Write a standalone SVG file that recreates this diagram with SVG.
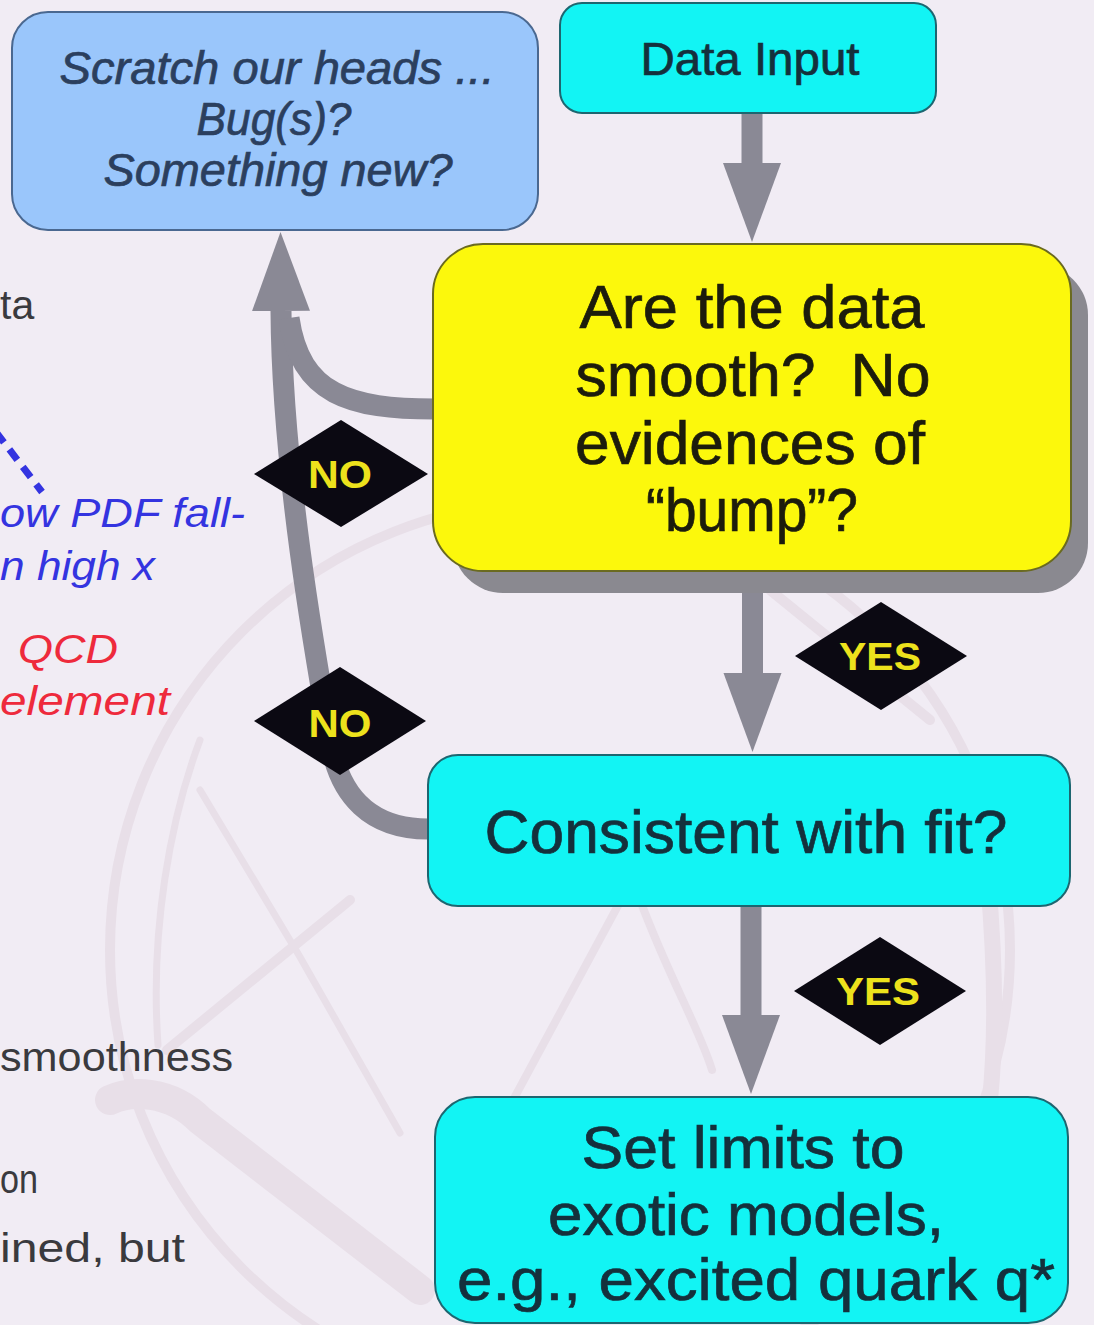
<svg xmlns="http://www.w3.org/2000/svg" width="1094" height="1325" viewBox="0 0 1094 1325">
  <defs>
    <marker id="head" markerUnits="userSpaceOnUse" markerWidth="80" markerHeight="62" refX="0" refY="29" orient="auto">
      <path d="M0,0 L79,29 L0,58 Z" fill="#8a8995"/>
    </marker>
  </defs>
  <style>
    .bg { fill: #f1ecf4; }
    .deco { fill: none; stroke: #e8dfe8; stroke-linecap: round; }
    .side { font-family: "Liberation Sans", Arial, sans-serif; font-size: 41px; }
    .grey { fill: #3a3a3e; }
    .blue { fill: #3434e0; font-style: italic; }
    .red { fill: #ee2a3c; font-style: italic; }
    .flow { fill: none; stroke: #8a8995; stroke-width: 21; }
    .box { stroke-width: 2; }
    .cyan { fill: #12f4f4; stroke: #1d6670; }
    .label { font-family: "Liberation Sans", Arial, sans-serif; text-anchor: middle; stroke-width: 0.7; }
    .dark { fill: #14303c; stroke: #14303c; }
    .diamond { fill: #0b0912; }
    .tag { font-family: "Liberation Sans", Arial, sans-serif; font-weight: bold; font-size: 38px; fill: #ede21c; text-anchor: middle; }
  </style>

  <rect class="bg" x="0" y="0" width="1094" height="1325"/>

  <!-- faint detector sketch in the background -->
  <g id="backdrop">
    <circle class="deco" cx="560" cy="950" r="450" stroke-width="10"/>
    <path class="deco" d="M200,740 C170,820 150,930 158,1045" stroke-width="7"/>
    <path class="deco" d="M200,790 L300,957 L400,1133" stroke-width="7"/>
    <path class="deco" d="M350,900 L167,1050" stroke-width="10"/>
    <path class="deco" d="M110,1100 C130,1090 170,1090 200,1120 L420,1290" stroke-width="30"/>
    <path class="deco" d="M621,900 L470,1180" stroke-width="8"/>
    <path class="deco" d="M640,900 C670,980 700,1030 712,1070" stroke-width="8"/>
    <path class="deco" d="M770,590 L930,720" stroke-width="10"/>
    <path class="deco" d="M988,880 C995,960 996,1040 990,1100" stroke-width="16"/>
  </g>

  <!-- slide text running off the left edge -->
  <g id="side-text" class="side">
    <text class="grey" x="0" y="319">ta</text>
    <line x1="-4" y1="432" x2="42" y2="492" stroke="#3434e0" stroke-width="7" stroke-dasharray="13,9"/>
    <text class="blue" x="0" y="527" textLength="245" lengthAdjust="spacingAndGlyphs">ow PDF fall-</text>
    <text class="blue" x="0" y="580" textLength="155" lengthAdjust="spacingAndGlyphs">n high x</text>
    <text class="red" x="18" y="663" textLength="100" lengthAdjust="spacingAndGlyphs">QCD</text>
    <text class="red" x="0" y="715" textLength="170" lengthAdjust="spacingAndGlyphs">element</text>
    <text class="grey" x="0" y="1071" textLength="233" lengthAdjust="spacingAndGlyphs">smoothness</text>
    <text class="grey" x="0" y="1193" textLength="38" lengthAdjust="spacingAndGlyphs">on</text>
    <text class="grey" x="0" y="1262" textLength="185" lengthAdjust="spacingAndGlyphs">ined, but</text>
  </g>

  <!-- connectors -->
  <g id="connectors">
    <path class="flow" d="M752,113 L752,163" marker-end="url(#head)"/>
    <path class="flow" d="M752.5,580 L752.5,673" marker-end="url(#head)"/>
    <path class="flow" d="M751,905 L751,1015" marker-end="url(#head)"/>
    <path class="flow" d="M428,829 C370,829 340,795 331,745 C316,660 282,470 281,311" marker-end="url(#head)"/>
    <path class="flow" d="M435,409 C350,409 300,395 289,318"/>
  </g>

  <!-- nodes -->
  <g id="scratch">
    <rect class="box" x="12" y="12" width="526" height="218" rx="36" fill="#9ac6fb" stroke="#4a6890"/>
    <g class="label" font-style="italic" font-size="46" fill="#2b3f5e" stroke="#2b3f5e">
      <text x="277" y="84" textLength="435" lengthAdjust="spacingAndGlyphs">Scratch our heads ...</text>
      <text x="274" y="135" textLength="155" lengthAdjust="spacingAndGlyphs">Bug(s)?</text>
      <text x="278" y="186" textLength="349" lengthAdjust="spacingAndGlyphs">Something new?</text>
    </g>
  </g>

  <g id="data-input">
    <rect class="box cyan" x="560" y="3" width="376" height="110" rx="22"/>
    <text class="label dark" x="750" y="75" font-size="46" textLength="219" lengthAdjust="spacingAndGlyphs">Data Input</text>
  </g>

  <g id="smooth">
    <rect x="453" y="265" width="635" height="328" rx="50" fill="#8a8990"/>
    <rect class="box" x="433" y="244" width="638" height="327" rx="50" fill="#fcf80c" stroke="#6a6a20"/>
    <g class="label" font-size="61" fill="#1c1c0c" stroke="#1c1c0c">
      <text x="752" y="328" textLength="345" lengthAdjust="spacingAndGlyphs">Are the data</text>
      <text x="753" y="396" textLength="355" lengthAdjust="spacingAndGlyphs">smooth?&#160; No</text>
      <text x="750" y="464" textLength="350" lengthAdjust="spacingAndGlyphs">evidences of</text>
      <text x="752" y="531" textLength="212" lengthAdjust="spacingAndGlyphs">“bump”?</text>
    </g>
  </g>

  <g id="consistent">
    <rect class="box cyan" x="428" y="755" width="642" height="151" rx="30"/>
    <text class="label dark" x="746" y="853" font-size="61" textLength="523" lengthAdjust="spacingAndGlyphs">Consistent with fit?</text>
  </g>

  <g id="limits">
    <rect class="box cyan" x="435" y="1097" width="633" height="226" rx="40"/>
    <g class="label dark" font-size="59">
      <text x="743" y="1168" textLength="323" lengthAdjust="spacingAndGlyphs">Set limits to</text>
      <text x="746" y="1235" textLength="396" lengthAdjust="spacingAndGlyphs">exotic models,</text>
      <text x="756" y="1300" textLength="598" lengthAdjust="spacingAndGlyphs">e.g., excited quark q*</text>
    </g>
  </g>

  <!-- yes / no tags -->
  <g id="no-smooth">
    <polygon class="diamond" points="341,420 428,474 341,527 254,474"/>
    <text class="tag" x="340" y="488" textLength="64" lengthAdjust="spacingAndGlyphs">NO</text>
  </g>
  <g id="no-fit">
    <polygon class="diamond" points="340,667 426,721 340,775 254,721"/>
    <text class="tag" x="340" y="737" textLength="63" lengthAdjust="spacingAndGlyphs">NO</text>
  </g>
  <g id="yes-smooth">
    <polygon class="diamond" points="881,602 967,656 881,710 795,656"/>
    <text class="tag" x="880" y="670" textLength="82" lengthAdjust="spacingAndGlyphs">YES</text>
  </g>
  <g id="yes-fit">
    <polygon class="diamond" points="880,937 966,991 880,1045 794,991"/>
    <text class="tag" x="878" y="1005" textLength="84" lengthAdjust="spacingAndGlyphs">YES</text>
  </g>
</svg>
